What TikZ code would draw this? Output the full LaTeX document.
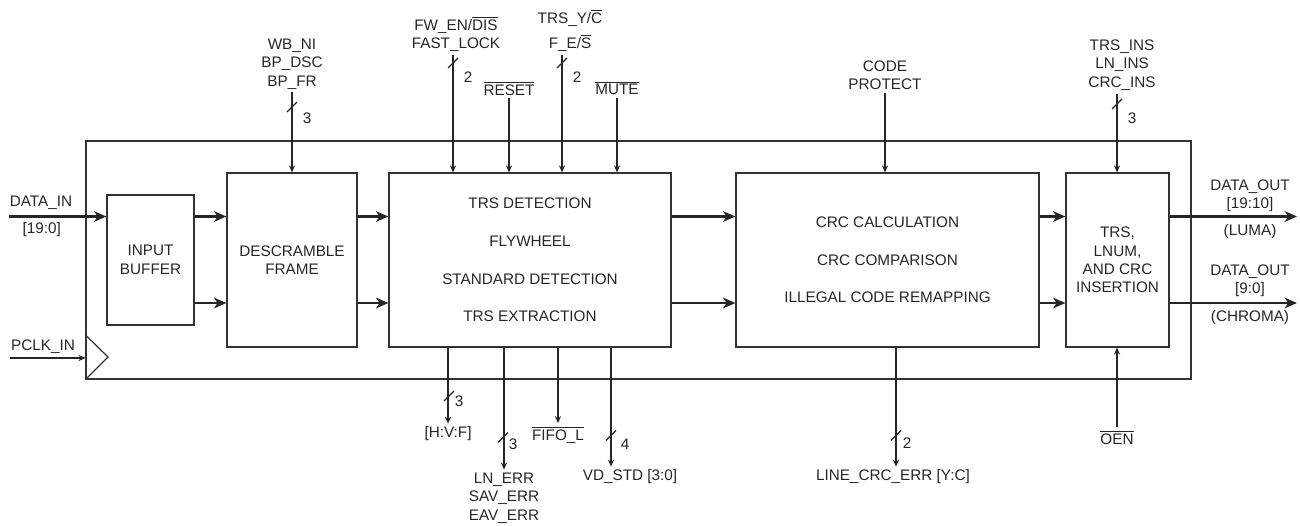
\documentclass[tikz,border=0pt]{standalone}
\usepackage{fontspec}
\setmainfont{Liberation Sans}
\usetikzlibrary{arrows.meta,positioning,calc}
\newcommand{\ovl}[1]{$\overline{\mbox{#1}}$}

\begin{document}
\begin{tikzpicture}
[x=0.02cm,y=-0.02cm,line width=0.7pt,
 every node/.style={inner sep=1.5pt,text=black!85,align=center,font=\fontsize{8.7}{10.5}\selectfont},
 blk/.style={rectangle,draw=black!80,minimum height=3.48cm},
 sig/.style={draw=black!85,-{Stealth[length=4pt,width=3.5pt]}},
 bus/.style={draw=black!85,line width=1.5pt,-{Stealth[length=7pt,width=6pt,inset=2pt]}}]

\useasboundingbox (0,0) rectangle (1300,525);

% core outline
\node[rectangle,draw=black!80,minimum width=22.1cm,minimum height=4.76cm] (Cor) at (638.5,260) {};
\draw[black!80] (Cor.west |- 0,335) -- (108,357) -- (Cor.south west);

% blocks
\node[blk,minimum width=1.74cm,minimum height=2.6cm] (Ib) at (150.5,260) {INPUT\\BUFFER};
\node[blk,minimum width=2.6cm] (Df) at (292,260) {DESCRAMBLE\\FRAME};
\node[blk,minimum width=5.64cm] (Td) at (530,260) {TRS DETECTION\\[10.9pt]FLYWHEEL\\[10.9pt]STANDARD DETECTION\\[10.9pt]TRS EXTRACTION};
\node[blk,minimum width=6.06cm] (Cc) at (887.5,260) {CRC CALCULATION\\[10.9pt]CRC COMPARISON\\[10.9pt]ILLEGAL CODE REMAPPING};
\node[blk,minimum width=2.06cm] (Ti) at (1117.5,260) {TRS,\\LNUM,\\AND CRC\\INSERTION};

% data paths
\coordinate (up) at (0,216.5);
\coordinate (dn) at (0,303);
\foreach \a/\b in {Ib/Df,Df/Td,Td/Cc,Cc/Ti}
{
  \draw[bus] (\a.east |- up) -- (\b.west |- up);
  \draw[bus] (\a.east |- dn) -- (\b.west |- dn);
}

% inputs on the left
\node (Din) at (41,202.5) {DATA\_IN};
\node (Dinb) at (41.7,230) {[19:0]};
\coordinate (Ds) at (9,216.5);
\draw[bus] (Ds) -- (Ib.west |- Ds);
\node (Pck) at (43,346.7) {PCLK\_IN};
\coordinate (Ps) at (10,358);
\draw[sig] (Ps) -- (Cor.west |- Ps);

% inputs on top
\node (Wb) at (292,64) {WB\_NI\\BP\_DSC\\BP\_FR};
\draw[sig] (Wb.south) -- (Wb.south |- Df.north);
\node (Fw) at (456,34) {FW\_EN/\ovl{DIS}\\FAST\_LOCK};
\draw[sig] ([xshift=-0.06cm]Fw.south) -- ([xshift=-0.06cm]Fw.south |- Td.north);
\node (Rst) at (509,88) {\ovl{RESET}};
\draw[sig] (Rst.south) -- (Rst.south |- Td.north);
\node (Tyc) at (570,30.5) {TRS\_Y/\ovl{C}\\[3.5pt]F\_E/\ovl{S}};
\draw[sig] ([xshift=-0.16cm]Tyc.south) -- ([xshift=-0.16cm]Tyc.south |- Td.north);
\node (Mut) at (617,88) {\ovl{MUTE}};
\draw[sig] (Mut.south) -- (Mut.south |- Td.north);
\node (Cpr) at (885,75.5) {CODE\\PROTECT};
\draw[sig] (Cpr.south) -- (Cpr.south |- Cc.north);
\node (Tin) at (1122,65) {TRS\_INS\\LN\_INS\\CRC\_INS};
\draw[sig] ([xshift=-0.1cm]Tin.south) -- ([xshift=-0.1cm]Tin.south |- Ti.north);

% outputs below
\node (Hvf) at (448,434) {[H:V:F]};
\draw[sig] (Td.south -| Hvf) -- (Hvf.north);
\node (Lne) at (504,498) {LN\_ERR\\SAV\_ERR\\EAV\_ERR};
\draw[sig] (Td.south -| Lne) -- (Lne.north);
\node (Ffl) at (558,435) {\ovl{FIFO\_L}};
\draw[sig] (Td.south -| Ffl) -- (Ffl.north);
\node (Vds) at (630,477) {VD\_STD [3:0]};
\draw[sig] ([xshift=-0.38cm]Td.south -| Vds) -- ([xshift=-0.38cm]Vds.north);
\node (Lce) at (893,477) {LINE\_CRC\_ERR [Y:C]};
\draw[sig] ([xshift=0.06cm]Cc.south -| Lce) -- ([xshift=0.06cm]Lce.north);
\node (Oen) at (1117,437) {\ovl{OEN}};
\draw[sig] (Oen.north) -- (Oen.north |- Ti.south);

% outputs on the right
\node (Lu) at (1250,195.5) {DATA\_OUT\\{}[19:10]};
\node (Lum) at (1250,232) {(LUMA)};
\node (Ch) at (1250,281) {DATA\_OUT\\{}[9:0]};
\node (Chr) at (1250,318) {(CHROMA)};
\coordinate (Lo) at (1297,216.5);
\coordinate (Co) at (1297,303);
\draw[bus] (Ti.east |- Lo) -- (Lo);
\draw[bus] (Ti.east |- Co) -- (Co);

% bus widths
\foreach \x/\y/\nx/\ny/\n [count=\i] in {292/107/307/118/3, 453/63/468/77/2, 562/63/577/77/2, 1117/104/1132/118/3,
  449/396/459/401/3, 503/437.5/513/444/3, 611/435.5/625/444/4, 896/435.5/907/443/2}
{
  \draw[black!85] ({\x-5},{\y+5}) -- ({\x+5},{\y-5});
  \node (w\i) at (\nx,\ny) {\n};
}
\end{tikzpicture}
\end{document}
